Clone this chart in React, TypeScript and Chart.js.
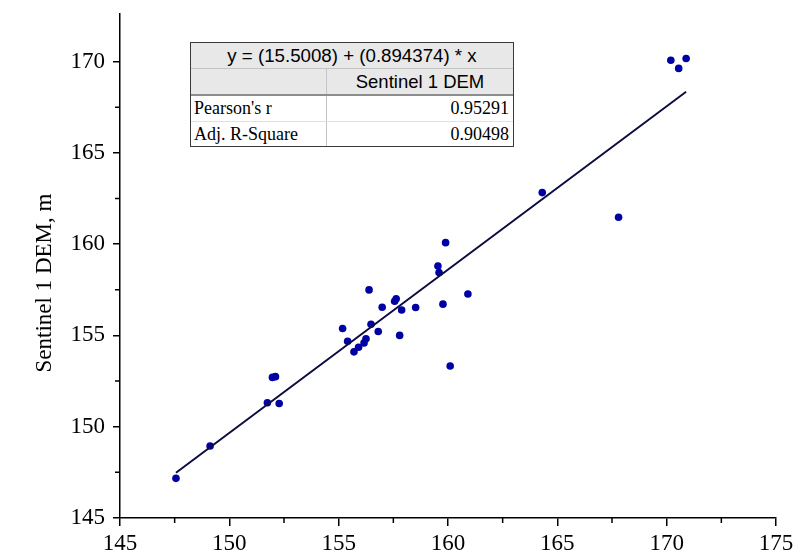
import React, { useEffect, useRef } from 'react';
import { Chart, registerables } from 'chart.js';

Chart.register(...registerables);

// ---- data ----
const xValues = [
  147.56, 149.12, 151.74, 152.28, 151.97, 152.11, 156.39, 157.63, 157.56, 156.99,
  157.88, 158.52, 159.77, 160.91, 155.18, 156.48, 156.81, 155.41, 156.25, 156.16,
  155.91, 155.7, 157.79, 160.1, 159.89, 159.54, 159.59, 164.31, 167.8, 170.19,
  170.55, 170.89,
];
const yValues = [
  147.17, 148.94, 151.31, 151.27, 152.7, 152.74, 157.49, 157.0, 156.87, 156.54,
  156.39, 156.53, 156.71, 157.27, 155.38, 155.61, 155.21, 154.68, 154.81, 154.59,
  154.35, 154.1, 155.0, 153.32, 160.08, 158.8, 158.44, 162.82, 161.47, 170.07,
  169.62, 170.16,
];
const fitIntercept = 15.5008;
const fitSlope = 0.894374;

const xTicks = [145, 150, 155, 160, 165, 170, 175];
const yTicks = [145, 150, 155, 160, 165, 170];
const xMinorTicks = [147.5, 152.5, 157.5, 162.5, 167.5, 172.5];
const yMinorTicks = [147.5, 152.5, 157.5, 162.5, 167.5];
const xRange = [145, 175];
const yRange = [145, 172.6];

const yTitle = 'Sentinel 1 DEM, m';
const seriesName = 'Sentinel 1 DEM';
const statLabels = ["Pearson's r", 'Adj. R-Square'];
const statValues = ['0.95291', '0.90498'];

const SERIF = "'Liberation Serif', 'Times New Roman', serif";
const SANS = "'Liberation Sans', Arial, sans-serif";

const minorTicksPlugin = {
  id: 'minorTicks',
  afterDraw(chart: any) {
    const ctx = chart.ctx;
    const xs = chart.scales.x;
    const ys = chart.scales.y;
    ctx.save();
    ctx.strokeStyle = '#000';
    ctx.lineWidth = 1.5;
    ctx.beginPath();
    xMinorTicks.forEach((v) => {
      const px = xs.getPixelForValue(v);
      ctx.moveTo(px, ys.bottom);
      ctx.lineTo(px, ys.bottom + 5);
    });
    yMinorTicks.forEach((v) => {
      const py = ys.getPixelForValue(v);
      ctx.moveTo(xs.left, py);
      ctx.lineTo(xs.left - 5, py);
    });
    ctx.stroke();
    // y-axis title (positioned slightly below the axis centre, as in the original)
    ctx.fillStyle = '#000';
    ctx.font = `23px ${SERIF}`;
    ctx.textAlign = 'center';
    ctx.textBaseline = 'middle';
    ctx.translate(45, (ys.top + ys.bottom) / 2 + 17);
    ctx.rotate(-Math.PI / 2);
    ctx.fillText(yTitle, 0, 0);
    ctx.restore();
  },
};

export default function App() {
  const ref = useRef<HTMLCanvasElement>(null);

  useEffect(() => {
    const points = xValues.map((x, i) => ({ x, y: yValues[i] }));
    const fx = [Math.min(...xValues), Math.max(...xValues)];
    const fitPoints = fx.map((x) => ({ x, y: fitIntercept + fitSlope * x }));

    const chart = new Chart(ref.current as HTMLCanvasElement, {
      type: 'scatter',
      data: {
        datasets: [
          {
            label: 'Linear Fit',
            data: fitPoints,
            showLine: true,
            borderColor: '#0c0c40',
            borderWidth: 2,
            pointRadius: 0,
            order: 0,
          } as any,
          {
            label: seriesName,
            data: points,
            backgroundColor: '#0000a4',
            borderWidth: 0,
            pointRadius: 3.8,
            order: 1,
          },
        ],
      },
      options: {
        responsive: false,
        devicePixelRatio: 1,
        animation: false,
        layout: { padding: { top: 14, right: 17, bottom: 0, left: 0 } },
        plugins: {
          legend: { display: false },
          tooltip: { enabled: false },
        },
        scales: {
          x: {
            type: 'linear',
            position: 'bottom',
            min: xRange[0],
            max: xRange[1],
            afterBuildTicks: (s: any) => {
              s.ticks = xTicks.map((v) => ({ value: v }));
            },
            afterFit: (s: any) => {
              s.height = 35;
              s.paddingLeft = 0;
              s.paddingRight = 0;
            },
            grid: {
              drawOnChartArea: false,
              drawTicks: true,
              tickLength: 8,
              color: '#000',
              lineWidth: 1.5,
            },
            border: { display: true, color: '#000', width: 1.5 },
            ticks: {
              color: '#000',
              padding: 4,
              maxRotation: 0,
              font: { family: SERIF, size: 23 },
            },
          },
          y: {
            type: 'linear',
            min: yRange[0],
            max: yRange[1],
            afterBuildTicks: (s: any) => {
              s.ticks = yTicks.map((v) => ({ value: v }));
            },
            afterFit: (s: any) => {
              s.width = 120;
              s.paddingTop = 0;
              s.paddingBottom = 0;
            },
            grid: {
              drawOnChartArea: false,
              drawTicks: true,
              tickLength: 7,
              color: '#000',
              lineWidth: 1.5,
            },
            border: { display: true, color: '#000', width: 1.5 },
            ticks: {
              color: '#000',
              padding: 8,
              font: { family: SERIF, size: 23 },
            },
            title: { display: false },
          },
        },
      } as any,
      plugins: [minorTicksPlugin],
    });
    return () => chart.destroy();
  }, []);

  const equation = `y = (${fitIntercept}) + (${fitSlope}) * x`;

  return (
    <div
      style={{
        position: 'fixed',
        left: 0,
        top: 0,
        width: 793,
        height: 553,
        background: '#fff',
      }}
    >
      <canvas
        ref={ref}
        width={793}
        height={553}
        style={{ width: 793, height: 553, display: 'block' }}
      />
      <div
        style={{
          position: 'absolute',
          left: 190,
          top: 42,
          width: 324,
          height: 105,
          boxSizing: 'border-box',
          border: '1px solid #3a3a3a',
          background: '#fff',
          color: '#000',
        }}
      >
        <div
          style={{
            height: 25,
            background: '#e8e8e8',
            borderBottom: '1px solid #c4c4c4',
            textAlign: 'center',
            font: `18.7px ${SANS}`,
            lineHeight: '25px',
            whiteSpace: 'nowrap',
          }}
        >
          {equation}
        </div>
        <div
          style={{
            height: 25,
            display: 'flex',
            background: '#e8e8e8',
            borderBottom: '2px solid #8c8c8c',
          }}
        >
          <div style={{ width: 135, borderRight: '1px solid #c4c4c4' }} />
          <div
            style={{
              flex: 1,
              textAlign: 'center',
              font: `18.5px ${SANS}`,
              lineHeight: '25px',
              whiteSpace: 'nowrap',
            }}
          >
            {seriesName}
          </div>
        </div>
        {statLabels.map((lab, i) => (
          <div
            key={lab}
            style={{
              height: i === 0 ? 25 : 24,
              display: 'flex',
              borderBottom: i === 0 ? '1px solid #e0e0e0' : 'none',
              font: `18px ${SERIF}`,
              lineHeight: i === 0 ? '25px' : '24px',
              whiteSpace: 'nowrap',
            }}
          >
            <div
              style={{
                width: 132,
                paddingLeft: 3,
                borderRight: '1px solid #c4c4c4',
              }}
            >
              {lab}
            </div>
            <div style={{ flex: 1, textAlign: 'right', paddingRight: 4 }}>
              {statValues[i]}
            </div>
          </div>
        ))}
      </div>
    </div>
  );
}
